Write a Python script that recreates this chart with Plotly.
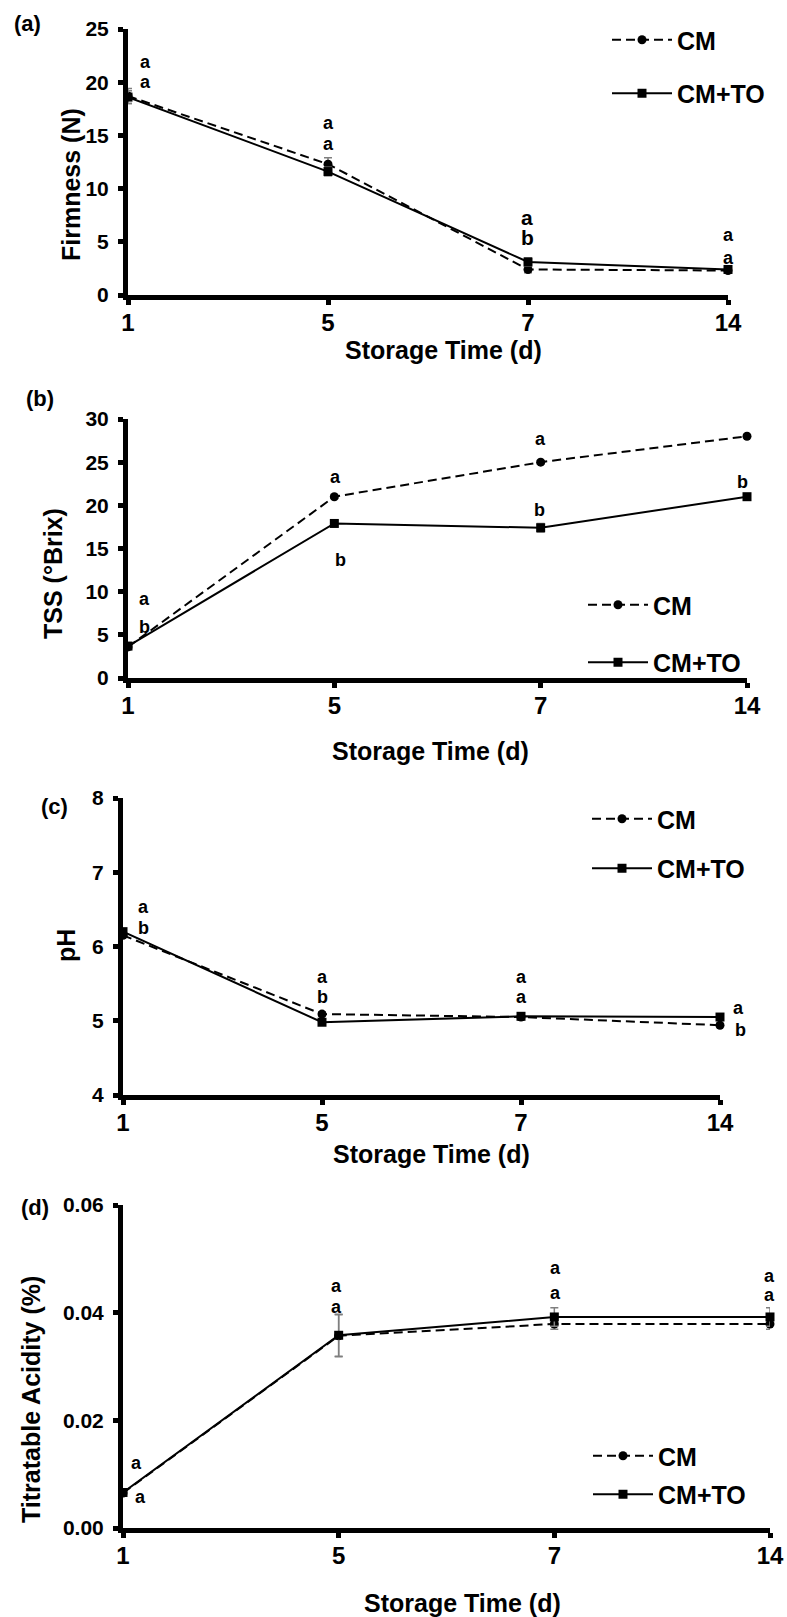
import plotly.graph_objects as go

W, H = 787, 1617
FONT = "Liberation Sans, Arial, Helvetica, sans-serif"

# ---------------- data ----------------
days = ["1", "5", "7", "14"]

firm_cm = [18.7, 12.3, 2.4, 2.3]
firm_cm_err = [0.7, 0.6, 0.3, 0.2]
firm_to = [18.6, 11.6, 3.1, 2.4]
firm_to_err = [0.6, 0.4, 0.4, 0.2]

tss_cm = [3.6, 21.0, 25.0, 28.0]
tss_cm_err = [0.3, 0.2, 0.2, 0.2]
tss_to = [3.7, 17.9, 17.4, 21.0]
tss_to_err = [0.3, 0.3, 0.5, 0.3]

ph_cm = [6.15, 5.09, 5.05, 4.94]
ph_cm_err = [0.03, 0.03, 0.02, 0.03]
ph_to = [6.20, 4.98, 5.06, 5.05]
ph_to_err = [0.03, 0.03, 0.02, 0.03]

ta_cm = [0.0065, 0.0357, 0.0379, 0.0379]
ta_cm_err = [0.0004, 0.0039, 0.0010, 0.0010]
ta_to = [0.0066, 0.0358, 0.0392, 0.0392]
ta_to_err = [0.0004, 0.0039, 0.0017, 0.0017]

firm_letters_top = ["a", "a", "a", "a"]
firm_letters_bot = ["a", "a", "b", "a"]
tss_letters_top = ["a", "a", "a", "a"]
tss_letters_bot = ["b", "b", "b", "b"]
ph_letters_top = ["a", "a", "a", "a"]
ph_letters_bot = ["b", "b", "a", "b"]
ta_letters_top = ["a", "a", "a", "a"]
ta_letters_bot = ["a", "a", "a", "a"]

series_names = ["CM", "CM+TO"]

# ---------------- layout helpers ----------------
def fx(p):
    return p / W

def fy(p):
    return 1 - p / H

panels = [
    dict(tag="(a)", ytitle="Firmness (N)", cm=firm_cm, cme=firm_cm_err, to=firm_to, toe=firm_to_err,
         yrange=[0, 25], dtick=5, fmt="d", xdom=(128, 728), ydom=(29, 295),
         lt=firm_letters_top, lb=firm_letters_bot,
         lty=[21.9, 16.2, 7.3, 5.6], lby=[20.0, 14.2, 5.4, 3.5],
         ltx=[17, 0, -1, 0], lbx=[17, 0, -1, 0], lsize=[18, 18, 21, 18],
         xt=(444, 350), yt=(71, 185), tg=(27, 23),
         leg=(607, 17), gap=18),
    dict(tag="(b)", ytitle="TSS (°Brix)", cm=tss_cm, cme=tss_cm_err, to=tss_to, toe=tss_to_err,
         yrange=[0, 30], dtick=5, fmt="d", xdom=(128, 747), ydom=(419, 678),
         lt=tss_letters_top, lb=tss_letters_bot,
         lty=[9.2, 23.3, 27.7, 30.8], lby=[5.9, 13.7, 19.5, 22.7],
         ltx=[16, 1, 0, -3], lbx=[16, 6, -1, -5], lsize=[18, 18, 18, 18],
         xt=(430, 751), yt=(53, 573), tg=(40, 399),
         leg=(583, 582), gap=22),
    dict(tag="(c)", ytitle="pH", cm=ph_cm, cme=ph_cm_err, to=ph_to, toe=ph_to_err,
         yrange=[4, 8], dtick=1, fmt="d", xdom=(123, 720), ydom=(798, 1095),
         lt=ph_letters_top, lb=ph_letters_bot,
         lty=[6.53, 5.59, 5.59, 5.17], lby=[6.25, 5.32, 5.32, 4.88],
         ltx=[20, 0, 0, 18], lbx=[20, 0, 0, 20], lsize=[18, 18, 18, 18],
         xt=(431, 1154), yt=(66, 946), tg=(54, 806),
         leg=(587, 796), gap=14),
    dict(tag="(d)", ytitle="Titratable Acidity (%)", cm=ta_cm, cme=ta_cm_err, to=ta_to, toe=ta_to_err,
         yrange=[0, 0.06], dtick=0.02, fmt=".2f", xdom=(123, 770), ydom=(1205, 1528),
         lt=ta_letters_top, lb=ta_letters_bot,
         lty=[0.0121, 0.0450, 0.0483, 0.0468], lby=[0.0058, 0.0411, 0.0437, 0.0433],
         ltx=[13, -2, 1, -1], lbx=[17, -2, 1, -1], lsize=[18, 18, 18, 18],
         xt=(462, 1603), yt=(31, 1400), tg=(35, 1207),
         leg=(588, 1433), gap=3),
]

fig = go.Figure()
annotations = []
layout = dict(
    width=W, height=H,
    margin=dict(l=0, r=0, t=0, b=0, autoexpand=False),
    paper_bgcolor="white", plot_bgcolor="white",
    font=dict(family=FONT, color="black"),
)

for i, p in enumerate(panels, start=1):
    sx = "" if i == 1 else str(i)
    xa, ya = "x" + sx, "y" + sx
    legname = "legend" + sx

    # CM series (dashed, circles)
    fig.add_trace(go.Scatter(
        x=days, y=p["cm"], name=series_names[0], xaxis=xa, yaxis=ya,
        mode="lines+markers", cliponaxis=False,
        line=dict(color="black", width=2, dash="9px,5px"),
        marker=dict(symbol="circle", size=9, color="black"),
        error_y=dict(type="data", array=p["cme"], color="#7f7f7f", thickness=1.5, width=4),
        legend=legname, legendgroup=f"{i}cm",
    ))
    # CM+TO series (solid, squares)
    fig.add_trace(go.Scatter(
        x=days, y=p["to"], name=series_names[1], xaxis=xa, yaxis=ya,
        mode="lines+markers", cliponaxis=False,
        line=dict(color="black", width=2),
        marker=dict(symbol="square", size=9, color="black"),
        error_y=dict(type="data", array=p["toe"], color="#7f7f7f", thickness=1.5, width=4),
        legend=legname, legendgroup=f"{i}to",
    ))

    layout["xaxis" + sx] = dict(
        type="category", categoryorder="array", categoryarray=days, range=[0, 3],
        domain=[fx(p["xdom"][0]), fx(p["xdom"][1])], anchor=ya, automargin=False,
        showline=True, linewidth=5, linecolor="black",
        ticks="outside", ticklen=5, tickwidth=5, tickcolor="black",
        ticklabelstandoff=-3,
        tickfont=dict(size=24, weight="bold", family=FONT, color="black"),
        showgrid=False, zeroline=False,
    )
    layout["yaxis" + sx] = dict(
        range=p["yrange"], dtick=p["dtick"], tick0=p["yrange"][0], tickformat=p["fmt"],
        domain=[fy(p["ydom"][1]), fy(p["ydom"][0])], anchor=xa, automargin=False,
        showline=True, linewidth=5, linecolor="black",
        ticks="outside", ticklen=5, tickwidth=5, tickcolor="black",
        ticklabelstandoff=5,
        tickfont=dict(size=21, weight="bold", family=FONT, color="black"),
        showgrid=False, zeroline=False,
    )
    layout[legname] = dict(
        x=fx(p["leg"][0]), y=fy(p["leg"][1]), xanchor="left", yanchor="top",
        font=dict(size=25, weight="bold", family=FONT, color="black"),
        bgcolor="rgba(0,0,0,0)", tracegroupgap=p["gap"], itemwidth=60,
    )

    # significance letters (x given as category index on the category axis)
    for j, d in enumerate(days):
        annotations.append(dict(
            xref=xa, yref=ya, x=j, y=p["lty"][j], text=p["lt"][j], showarrow=False,
            xshift=p["ltx"][j], font=dict(size=p["lsize"][j], weight="bold", family=FONT, color="black"),
        ))
        annotations.append(dict(
            xref=xa, yref=ya, x=j, y=p["lby"][j], text=p["lb"][j], showarrow=False,
            xshift=p["lbx"][j], font=dict(size=p["lsize"][j], weight="bold", family=FONT, color="black"),
        ))

    # axis titles and panel tag
    annotations.append(dict(
        xref="paper", yref="paper", x=fx(p["xt"][0]), y=fy(p["xt"][1]),
        text="Storage Time (d)", showarrow=False, xanchor="center", yanchor="middle",
        font=dict(size=25, weight="bold", family=FONT, color="black"),
    ))
    annotations.append(dict(
        xref="paper", yref="paper", x=fx(p["yt"][0]), y=fy(p["yt"][1]),
        text=p["ytitle"], showarrow=False, xanchor="center", yanchor="middle", textangle=-90,
        font=dict(size=25, weight="bold", family=FONT, color="black"),
    ))
    annotations.append(dict(
        xref="paper", yref="paper", x=fx(p["tg"][0]), y=fy(p["tg"][1]),
        text=p["tag"], showarrow=False, xanchor="center", yanchor="middle",
        font=dict(size=22, weight="bold", family=FONT, color="black"),
    ))

layout["annotations"] = annotations
fig.update_layout(**layout)
fig.write_html(
    "out.html",
    config={"displayModeBar": False},
    post_script="document.body.style.margin='0px';",
)
